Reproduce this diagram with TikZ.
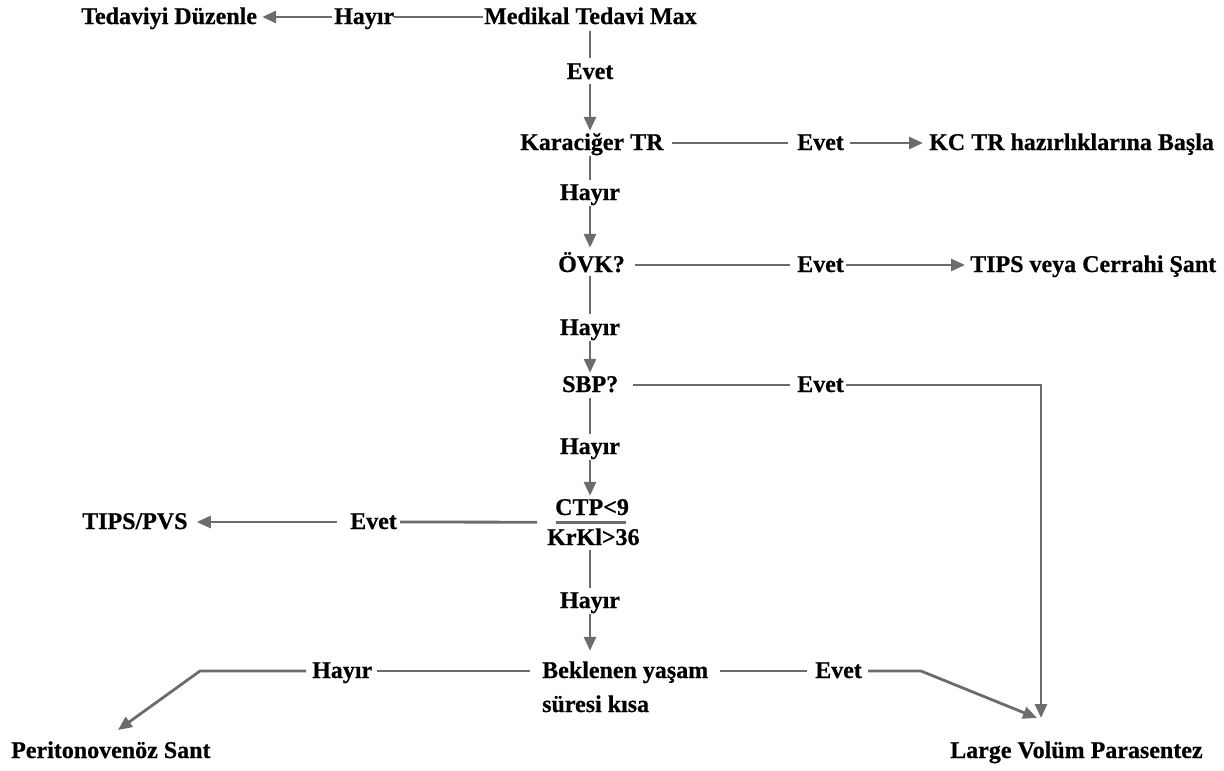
\documentclass[tikz,border=0pt]{standalone}
\usepackage{fontspec}
\setmainfont{Liberation Serif}[BoldFeatures={FakeBold=0.6}]
\usetikzlibrary{arrows.meta,calc}
\definecolor{ln}{RGB}{108,108,112}
\begin{document}
\begin{tikzpicture}[x=1pt,y=-1pt,
  lbl/.style={font=\fontsize{24}{28}\selectfont\bfseries, inner sep=0pt, text height=14pt, text depth=0pt, anchor=base west},
  lblc/.style={lbl, anchor=base},
  conn/.style={draw=ln, line width=2.8pt},
  arr/.style={conn, -{Triangle[length=14pt,width=12pt]}}]
\useasboundingbox (0,0) rectangle (1224,771);
% nodes
\node[lbl] (ted) at (81,24) {Tedaviyi Düzenle};
\node[lbl] (hay1) at (334,24) {Hayır};
\node[lbl] (med) at (484,24) {Medikal Tedavi Max};
\node[lblc] (ev1) at (590,79) {Evet};
\node[lbl] (kar) at (520,150) {Karaciğer TR};
\node[lbl] (ev2) at (797,150) {Evet};
\node[lbl] (kc) at (929,150) {KC TR hazırlıklarına Başla};
\node[lblc] (hay2) at (590,200) {Hayır};
\node[lbl] (ovk) at (558,272) {ÖVK?};
\node[lbl] (ev3) at (797,272) {Evet};
\node[lbl] (tips) at (970,272) {TIPS veya Cerrahi Şant};
\node[lblc] (hay3) at (590,335) {Hayır};
\node[lbl] (sbp) at (562,392) {SBP?};
\node[lbl] (ev4) at (797,392) {Evet};
\node[lblc] (hay4) at (590,454) {Hayır};
\node[lbl] (ctp) at (555,515) {CTP<9};
\node[lbl] (krkl) at (547,545) {KrKl>36};
\node[lbl] (tpvs) at (82,529) {TIPS/PVS};
\node[lbl] (ev5) at (350,529) {Evet};
\node[lblc] (hay5) at (590,608) {Hayır};
\node[lbl] (bek1) at (542,678) {Beklenen yaşam};
\node[lbl] (bek2) at (542,712) {süresi kısa};
\node[lbl] (hay6) at (312,678) {Hayır};
\node[lbl] (ev6) at (815,678) {Evet};
\node[lbl] (per) at (11,758) {Peritonovenöz Sant};
\node[lbl] (lvp) at (950,758) {Large Volüm Parasentez};
\coordinate (bl) at (200,671);
\coordinate (br) at (921,671);
\coordinate (pertip) at (118,730);
\coordinate (lvtip) at (1041,718);
\coordinate (lvtipd) at (1037,718);
% row 1
\draw[conn] ([xshift=-1]med.west) -- (hay1.east);
\draw[arr] ([xshift=-2]hay1.west) -- ([xshift=5]ted.east);
\draw[conn] ([yshift=-7]ev1.north |- med.south) -- ([yshift=7]ev1.north);
\draw[arr] ([yshift=-5]ev1.south) -- ([yshift=5]ev1.south |- kar.north);
% row 2
\draw[conn] ([xshift=8]kar.east) -- ([xshift=-9]ev2.west);
\draw[arr] ([xshift=6]ev2.east) -- ([xshift=-6]kc.west);
\draw[conn] ([yshift=-6]hay2.north |- kar.south) -- ([yshift=6]hay2.north);
\draw[arr] ([yshift=-6]hay2.south) -- ([yshift=10]hay2.south |- ovk.north);
% row 3
\draw[conn] ([xshift=10]ovk.east) -- ([xshift=-7]ev3.west);
\draw[arr] ([xshift=2]ev3.east) -- ([xshift=-5]tips.west);
\draw[conn] ([yshift=-4]hay3.north |- ovk.south) -- ([yshift=7]hay3.north);
\draw[arr] ([yshift=-6]hay3.south) -- ([yshift=5]hay3.south |- sbp.north);
% row 4
\draw[conn] ([xshift=15]sbp.east) -- ([xshift=-7]ev4.west);
\draw[arr] ([xshift=2]ev4.east) -| (lvtip);
\draw[conn] ([yshift=-6]hay4.north |- sbp.south) -- ([yshift=6]hay4.north);
\draw[arr] ([yshift=-6]hay4.south) -- ([yshift=5]hay4.south |- ctp.north);
% CTP / KrKl
\draw[conn] ([xshift=1,yshift=-7]ctp.south west) -- ([xshift=-3,yshift=-7]ctp.south east);
\draw[conn] ([xshift=-18,yshift=-7]ctp.south west) -- ([xshift=3]ev5.east);
\draw[arr] ([xshift=-13]ev5.west) -- ([xshift=9]tpvs.east);
\draw[conn] ([yshift=-5]hay5.north |- krkl.south) -- ([yshift=6]hay5.north);
\draw[arr] ([yshift=-6]hay5.south) -- ([yshift=13]hay5.south |- bek1.north);
% row 6
\draw[conn] ([xshift=12]bek1.east) -- ([xshift=-8]ev6.west);
\draw[arr] ([xshift=6]ev6.east) -- (br) -- (lvtipd);
\draw[conn] ([xshift=-12]bek1.west) -- ([xshift=5]hay6.east);
\draw[arr] ([xshift=-6]hay6.west) -- (bl) -- (pertip);
\end{tikzpicture}
\end{document}
